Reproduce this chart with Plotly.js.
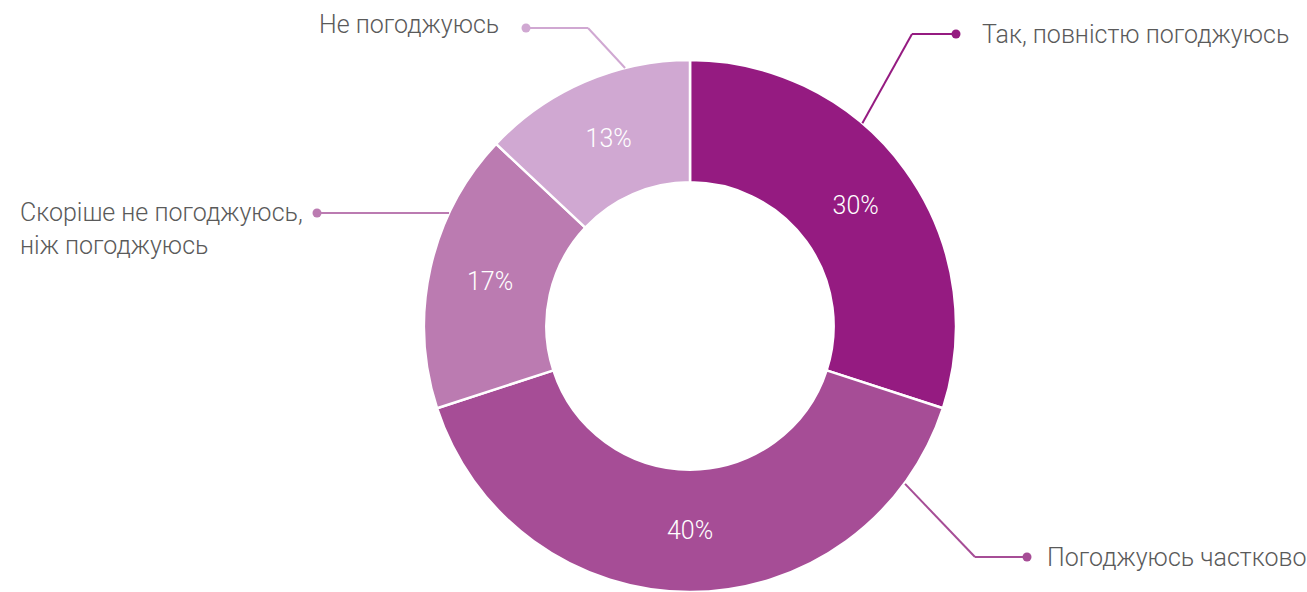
<!DOCTYPE html>
<html>
<head>
<meta charset="utf-8">
<script src="https://cdn.plot.ly/plotly-3.0.1.min.js"></script>
<style>html,body{margin:0;padding:0;background:#fff;}#chart{width:1307px;height:592px;}</style>
</head>
<body>
<div id="chart"></div>
<script>
const categories = ["Так, повністю погоджуюсь", "Погоджуюсь частково", "Скоріше не погоджуюсь,<br>ніж погоджуюсь", "Не погоджуюсь"];
const values = [30, 40, 17, 13];
const colors = ["#951b81", "#a64d96", "#bb7bb1", "#d0a8d2"];

const W = 1307, H = 592;
// donut geometry in pixels
const cx = 690, cy = 326.5, R = 266.5;
const P = (x, y) => ({x: x / W, y: 1 - y / H});

// leader line layout (pixels): start angle on the rim (deg clockwise from top), elbow, dot, label
const leaders = [
  {ang: 40.3, elbow: [912, 34], dot: [956, 34], text: [980, 34], anchor: "left"},
  {ang: 126.2, elbow: [975, 557], dot: [1027, 557], text: [1045, 557], anchor: "left"},
  {ang: 295.3, elbow: null, dot: [317, 213], text: [305, 229], anchor: "right"},
  {ang: 345.9, elbow: [588, 28], dot: [526, 28], text: [501, 25], anchor: "right"}
];

const shapes = [];
const annotations = [];
leaders.forEach((L, i) => {
  const a = L.ang * Math.PI / 180;
  const sx = cx + R * Math.sin(a), sy = cy - R * Math.cos(a);
  const pts = [[sx, L.elbow ? sy : L.dot[1]]];
  if (L.elbow) pts.push(L.elbow);
  pts.push(L.dot);
  for (let k = 0; k < pts.length - 1; k++) {
    const p0 = P(pts[k][0], pts[k][1]), p1 = P(pts[k + 1][0], pts[k + 1][1]);
    shapes.push({type: "line", xref: "paper", yref: "paper", x0: p0.x, y0: p0.y, x1: p1.x, y1: p1.y,
      line: {color: colors[i], width: 2}});
  }
  const d = P(L.dot[0], L.dot[1]);
  shapes.push({type: "circle", xref: "paper", yref: "paper", xsizemode: "pixel", ysizemode: "pixel",
    xanchor: d.x, yanchor: d.y, x0: -4.5, x1: 4.5, y0: -4.5, y1: 4.5,
    fillcolor: colors[i], line: {width: 0}});
  const t = P(L.text[0], L.text[1]);
  annotations.push({xref: "paper", yref: "paper", x: t.x, y: t.y, text: categories[i],
    xanchor: L.anchor, yanchor: "middle", align: "left", showarrow: false,
    font: {family: "Roboto, sans-serif", size: 25, weight: 300, color: "#5a5a5a"}});
});

const dom = {x: [(cx - R) / W, (cx + R) / W], y: [Math.max(0, 1 - (cy + R) / H), 1 - (cy - R) / H]};

Plotly.newPlot("chart", [{
  type: "pie",
  labels: categories,
  values: values,
  sort: false,
  direction: "clockwise",
  rotation: 0,
  hole: 0.54,
  domain: dom,
  marker: {colors: colors, line: {color: "#ffffff", width: 2.5}},
  textinfo: "text",
  text: values.map(v => v + "%"),
  textposition: "inside",
  insidetextorientation: "horizontal",
  textfont: {family: "Roboto, sans-serif", size: 25, weight: 300, color: "#ffffff"},
  hoverinfo: "none"
}], {
  width: W, height: H,
  margin: {l: 0, r: 0, t: 0, b: 0},
  showlegend: false,
  paper_bgcolor: "#ffffff",
  shapes: shapes,
  annotations: annotations
}, {displayModeBar: false, staticPlot: true});
</script>
</body>
</html>
